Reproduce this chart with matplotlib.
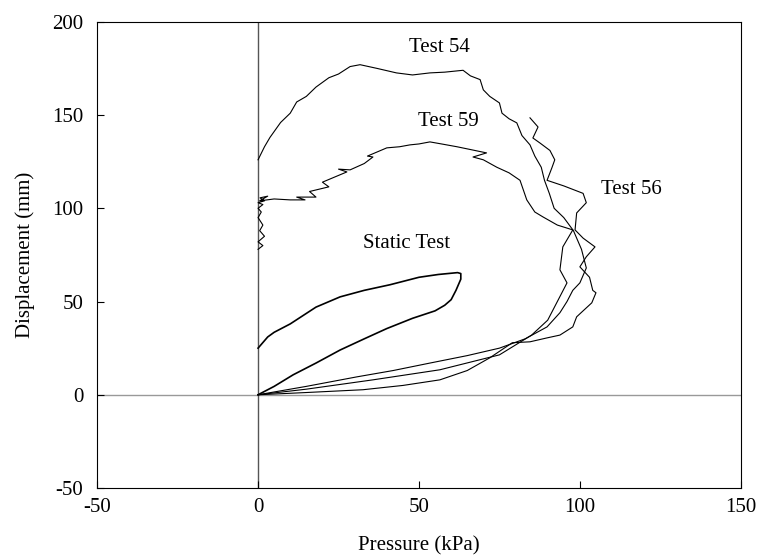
import matplotlib
matplotlib.use("Agg")
import matplotlib.pyplot as plt

plt.rcParams['font.family'] = ['Liberation Serif', 'DejaVu Serif']
plt.rcParams['axes.unicode_minus'] = False

# Test 54: pressure (kPa), displacement (mm)
t54_p = [0, 15, 30.7, 42, 53.4, 65, 75, 83, 89.8, 93.8, 96, 97.8, 100, 102, 100.5, 98,
         95, 92, 90.5, 89, 88, 86, 84.5, 82, 80.4, 78, 75.8, 75, 72, 70, 69, 66, 63.7,
         58, 53.4, 48, 43, 37, 31.7, 28.6, 25, 22, 18, 15, 12, 10, 7, 3.7, 2, 0]
t54_d = [0, 4.5, 9.6, 13, 17, 21, 25, 30, 36.4, 44, 50, 56, 60, 68, 78, 88,
         95, 100, 108, 115, 122, 128, 134, 139, 145.8, 148, 151, 156.5, 160, 163.5, 169, 171, 174,
         173, 172.6, 171.5, 172.6, 175, 177, 176, 172, 170, 165, 160, 157, 151, 146, 138, 133, 126]

# Test 59
t59_p = [0, 1.5, 0, 2, 0.5, 1.5, 0, 1, 0, 1.5, 0, 2, 0.6, 3, 0.5, 5, 10, 14.6, 12, 18, 16, 22, 20,
         27.6, 25, 28.6, 33, 35.7, 34, 40, 44, 47.2, 50, 53.4, 57, 61.8, 66, 71, 66.8, 70, 74.2, 78,
         81.4, 83.5, 86, 88.5, 93, 97.8, 94.7, 93.8, 96, 93, 90, 85, 75, 56.5, 35.7, 15, 0]
t59_d = [78, 80, 82, 85, 88, 91, 95, 98, 100, 102, 103, 104, 105.6, 106.5, 104, 105, 104.5, 104.5, 106, 106, 109, 111.5, 114,
         119.5, 121, 120.6, 124, 127.5, 128, 132.4, 133, 134, 134.5, 135.6, 134.5, 133, 131.5, 129.7, 127.5, 126, 122, 119,
         115, 104.5, 98, 95.4, 91, 88.4, 79.3, 67, 60, 50, 40, 32, 21.4, 13.4, 8, 3, 0]

# Test 56
t56_p = [0, 15, 32.6, 45, 56.5, 65, 72, 79, 84.5, 89.8, 93.8, 97.8, 99, 101, 103.7, 105,
         104, 103, 100, 102, 104.7, 101, 98.5, 99, 102, 101, 95, 89.8, 91.3, 92.2, 90.7,
         87.6, 85.4, 87, 84.5]
t56_d = [0, 1.2, 2.7, 5, 8, 13, 19.8, 27.9, 28.4, 30.5, 32, 36.4, 41.8, 45, 49.3, 54.7,
         56, 63, 68.6, 74, 79.3, 84, 88.4, 97.5, 103, 108, 112, 115, 121.7, 126, 131,
         135, 137.7, 143.6, 148.5]

# Static test loop
st_p = [0, 5, 10.9, 18, 25.5, 33, 40, 48, 55, 58, 60, 61.5, 63, 63, 62, 56, 50, 41, 33, 25.5, 18, 10, 5, 3, 0]
st_d = [0, 4.5, 10.7, 17, 24, 30, 35.5, 41, 45, 48, 51, 56, 62, 65, 65.5, 64.5, 63, 59, 56, 52.5, 47, 38, 33.5, 31, 25]

labels = ['Test 54', 'Test 59', 'Test 56', 'Static Test']
label_pos = [(56.5, 186), (59, 146.3), (116, 110), (46.3, 81)]

fig = plt.figure(figsize=(7.59, 5.59), dpi=100)
ax = fig.add_axes([0.128, 0.127, 0.848, 0.834])

ax.axhline(0, color='#999999', lw=1.0, zorder=1)
ax.axvline(0, color='#555555', lw=1.0, zorder=1)

ax.plot(t54_p, t54_d, color='black', lw=0.8)
ax.plot(t59_p, t59_d, color='black', lw=0.8)
ax.plot(t56_p, t56_d, color='black', lw=0.8)
ax.plot(st_p, st_d, color='black', lw=1.2)

for lab, (x, y) in zip(labels, label_pos):
    ax.text(x, y, lab, fontsize=15, ha='center', va='center')

ax.set_xlim(-50, 150)
ax.set_ylim(-50, 200)
ax.set_xticks([-50, 0, 50, 100, 150])
ax.set_yticks([-50, 0, 50, 100, 150, 200])
ax.tick_params(direction='in', length=5, labelsize=15, pad=7)
ax.tick_params(axis='y', pad=10)
ax.set_xlabel('Pressure (kPa)', fontsize=15, labelpad=14)
ax.set_ylabel('Displacement (mm)', fontsize=15, labelpad=12)

fig.savefig('out.png', dpi=100)
